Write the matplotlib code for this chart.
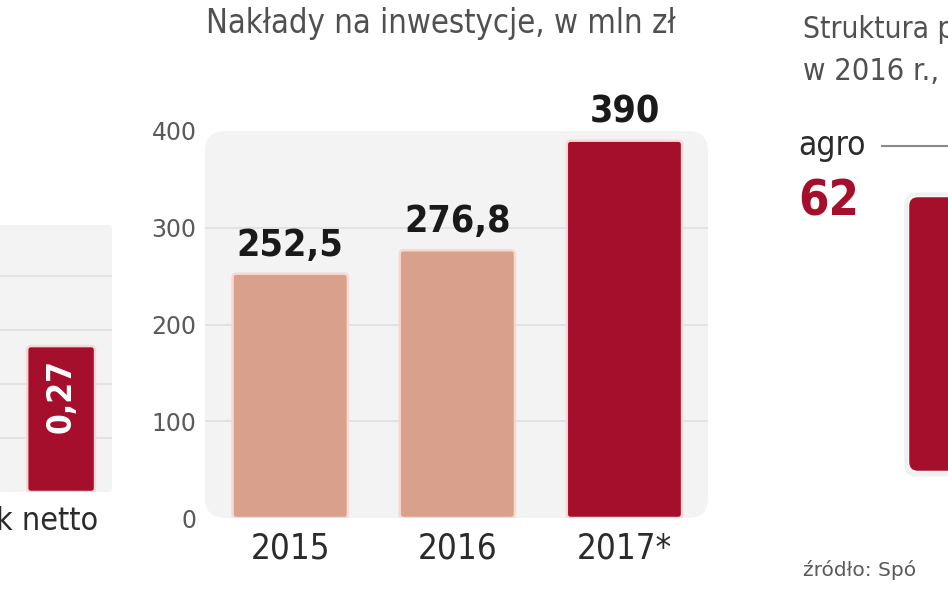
import matplotlib
matplotlib.use('Agg')
import matplotlib.pyplot as plt
from matplotlib.patches import FancyBboxPatch

# --- DATA ---
YEARS = ['2015', '2016', '2017*']
INVEST = [252.5, 276.8, 390]
INVEST_LABELS = ['252,5', '276,8', '390']
BAR_COLORS = ['#d9a08b', '#d9a08b', '#a50f2b']
Y_TICKS = [0, 100, 200, 300, 400]
GRID = [100, 200, 300]

LEFT_VALUE = [0.27]
LEFT_LABEL = ['0,27']
LEFT_GRID = [0.1, 0.2, 0.3, 0.4]

RIGHT_VALUE = [62]
RIGHT_LABEL = 'agro'
# -------------

W, H = 948, 593
plt.rcParams['font.family'] = ['DejaVu Sans']
plt.rcParams['font.stretch'] = 'condensed'

fig = plt.figure(figsize=(W / 100, H / 100), dpi=100)
fig.patch.set_facecolor('white')


def px_axes(left, top, right, bottom):
    # axes placed by pixel box (y measured from top)
    return fig.add_axes([left / W, 1 - bottom / H, (right - left) / W, (bottom - top) / H])


def rounded_bars(ax, xs, vals, width, colors, px_x, px_y, radius, edge):
    # ax.bar for geometry, then swap each rectangle for a rounded one
    bars = ax.bar(xs, vals, width=width, color=colors)
    for b in bars:
        b.set_visible(False)
        x0, y0 = b.get_x(), b.get_y()
        w, h = b.get_width(), b.get_height()
        patch = FancyBboxPatch((x0, y0), w, h,
                               boxstyle=f"round,pad=0,rounding_size={radius * px_x}",
                               mutation_aspect=px_y / px_x,
                               facecolor=b.get_facecolor(), edgecolor=edge,
                               linewidth=1.8, zorder=3)
        ax.add_patch(patch)
    return bars


def panel(ax, x0=0.0, aspect=1.0):
    p = FancyBboxPatch((x0, 0), 1 - x0, 1, transform=ax.transAxes,
                       boxstyle="round,pad=0,rounding_size=0.04",
                       mutation_aspect=aspect,
                       facecolor='#f3f3f4', edgecolor='none', zorder=0, clip_on=False)
    ax.add_patch(p)


# --- MAIN CHART: investment outlays ---
ax = px_axes(205, 131, 708, 518)
ax.set_xlim(-0.51, 2.50)
ax.set_ylim(0, 400)
ax.set_facecolor('none')
for s in ax.spines.values():
    s.set_visible(False)
panel(ax, aspect=503 / 387)
for g in GRID:
    ax.axhline(g, color='#dedfe2', linewidth=1.2, zorder=1)

xs = list(range(len(YEARS)))
rounded_bars(ax, xs, INVEST, 0.69, BAR_COLORS, 1 / 167, 100 / 97, 4, '#f7d9d2')

for x, v, lab in zip(xs, INVEST, INVEST_LABELS):
    ax.annotate(lab, (x, v), xytext=(0, 13), textcoords='offset points',
                ha='center', va='baseline', fontsize=27, fontweight='bold',
                color='#1a1a1a', zorder=5)

ax.set_yticks(Y_TICKS)
ax.set_yticklabels([str(t) for t in Y_TICKS], color='#5a5a5a', fontsize=17,
                   fontstretch='normal')
ax.set_xticks(xs)
ax.set_xticklabels(YEARS, color='#2b2b2b', fontsize=25)
ax.tick_params(axis='y', length=0, pad=6)
ax.tick_params(axis='x', length=0, pad=10)

fig.text(441 / W, 1 - 23 / H, 'Nakłady na inwestycje, w mln zł',
         ha='center', va='center', fontsize=23.5, color='#505050')

# --- LEFT (cut-off) PANEL ---
axl = px_axes(0, 225, 112, 492)
axl.set_xlim(-0.54, 0.45)
axl.set_ylim(0, 0.494)
axl.set_facecolor('none')
axl.axis('off')
panel(axl, x0=-0.3, aspect=112 / 267)
for g in LEFT_GRID:
    axl.axhline(g, color='#dedfe2', linewidth=1.2, zorder=1)
rounded_bars(axl, [0], LEFT_VALUE, 0.6, ['#a50f2b'], 1 / 113, 0.1 / 54, 4, '#f7d9d2')
axl.text(0, LEFT_VALUE[0] * 0.66, LEFT_LABEL[0], rotation=90, ha='center', va='center',
         fontsize=24, fontweight='bold', color='white', zorder=5)
fig.text(98 / W, 1 - 522 / H, 'k netto', ha='right', va='center',
         fontsize=23, color='#2b2b2b')

# --- RIGHT (cut-off) PANEL ---
axr = px_axes(908, 196, 1000, 472)
axr.set_xlim(0, 1)
axr.set_ylim(0, 62)
axr.axis('off')
shadow = FancyBboxPatch((-0.04, -1.0), 1.2, 63.8, boxstyle="round,pad=0,rounding_size=0.13",
                        mutation_aspect=(62 / 276) / (1 / 92),
                        facecolor='#f0f0f1', edgecolor='none', zorder=1, clip_on=False)
axr.add_patch(shadow)
rounded_bars(axr, [0.5], RIGHT_VALUE, 1.0, ['#a50f2b'], 1 / 92, 62 / 276, 10, '#f8f8f8')

fig.text(803 / W, 1 - 30 / H, 'Struktura p', ha='left', va='center',
         fontsize=21.5, color='#505050')
fig.text(803 / W, 1 - 72 / H, 'w 2016 r.,', ha='left', va='center',
         fontsize=22, color='#505050')
fig.text(798 / W, 1 - 146 / H, RIGHT_LABEL, ha='left', va='center',
         fontsize=24, color='#2b2b2b')
fig.add_artist(plt.Line2D([882 / W, 1.0], [1 - 146 / H, 1 - 146 / H],
                          color='#8a8a8a', linewidth=1.5))
fig.text(798 / W, 1 - 201 / H, str(RIGHT_VALUE[0]), ha='left', va='center',
         fontsize=35, fontweight='bold', color='#a50f2b')
fig.text(803 / W, 1 - 570 / H, 'źródło: Spó', ha='left', va='center',
         fontsize=14.5, color='#5a5a5a', fontstretch='normal')

fig.savefig('out.png', dpi=100)
